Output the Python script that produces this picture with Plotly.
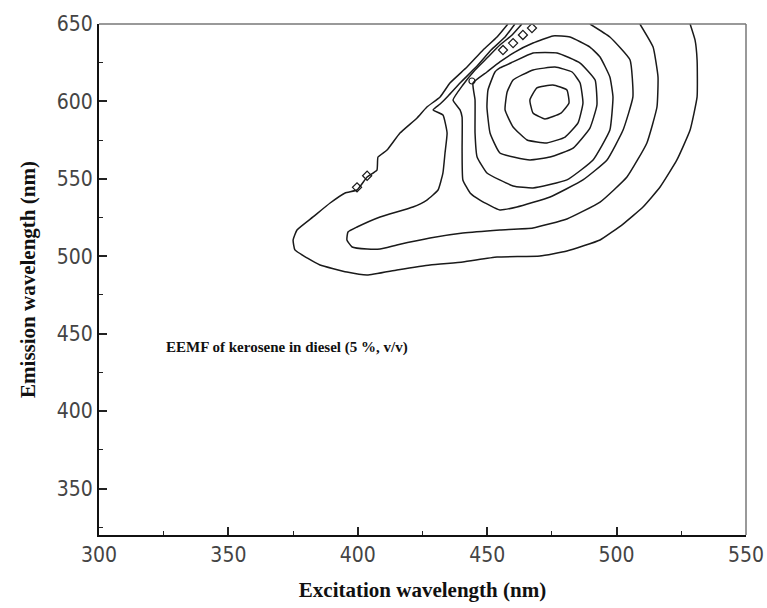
import plotly.graph_objects as go

# Excitation-emission contour lines (excitation nm, emission nm), outermost level first.
lvl1_ex = [458.0, 453.8, 448.4, 442.2, 435.6, 431.8, 426.7, 422.9, 416.3, 411.3, 407.8, 407.4,
           403.6, 399.7, 395.1, 389.3, 382.7, 376.5, 375.0, 375.7, 380.4, 385.4, 395.8, 403.6,
           415.1, 427.9, 440.6, 453.8, 470.4, 480.8, 493.6, 502.5, 510.2, 516.8, 523.3, 528.4,
           531.1, 531.1, 530.3, 528.4]
lvl1_em = [650.0, 641.6, 633.2, 622.2, 611.9, 602.9, 596.4, 589.3, 579.6, 568.6, 564.1, 555.7,
           551.2, 542.8, 540.9, 534.4, 525.4, 517.0, 510.5, 504.1, 498.9, 494.4, 489.8, 487.9,
           491.1, 494.4, 496.3, 499.5, 500.2, 503.4, 510.5, 520.8, 531.8, 544.7, 562.2, 581.5,
           602.9, 626.8, 639.7, 650.0]

lvl2_ex = [460.7, 456.9, 451.5, 445.7, 439.5, 434.9, 431.8, 429.1, 432.9, 434.5, 433.7, 432.9,
           431.0, 426.7, 421.3, 408.6, 399.7, 396.2, 395.8, 397.8, 403.6, 408.6, 415.1, 427.9,
           440.6, 454.9, 467.7, 480.8, 493.6, 504.0, 511.7, 515.6, 516.0, 514.1, 509.0]
lvl2_em = [650.0, 641.6, 633.2, 622.2, 611.9, 603.5, 598.3, 594.5, 591.2, 579.6, 566.7, 553.8,
           542.8, 536.3, 531.8, 525.4, 518.9, 515.7, 510.5, 506.0, 504.7, 504.7, 507.3, 511.8,
           515.0, 517.0, 518.3, 524.1, 535.0, 551.2, 573.2, 596.4, 615.8, 635.1, 650.0]

lvl3_ex = [463.4, 459.6, 454.9, 449.9, 445.3, 440.6, 436.8, 439.5, 440.3, 440.3, 440.6, 443.4,
           447.2, 454.9, 461.5, 474.3, 487.0, 496.3, 502.5, 506.3, 505.2, 497.4, 489.7]
lvl3_em = [650.0, 642.9, 636.4, 628.0, 620.3, 610.6, 600.9, 594.5, 589.9, 568.6, 549.3, 540.9,
           536.3, 529.9, 531.8, 538.3, 549.3, 562.2, 581.5, 602.9, 626.8, 641.6, 650.0]

lvl4_ex = [444.5, 445.3, 445.3, 446.1, 449.9, 460.0, 467.7, 480.8, 490.9, 497.4, 498.6, 497.4,
           493.6, 489.7, 482.0, 475.4, 467.7, 460.7, 454.9, 449.9, 444.5]
lvl4_em = [611.9, 600.9, 579.6, 564.1, 553.8, 545.4, 544.1, 549.3, 562.2, 581.5, 602.9, 615.8,
           628.7, 635.1, 641.6, 642.3, 637.7, 631.9, 625.5, 619.0, 611.9]

lvl5_ex = [453.0, 450.3, 449.9, 451.1, 454.9, 466.5, 474.3, 483.2, 489.7, 492.4, 491.7, 485.9,
           477.0, 467.7, 460.0, 454.9, 453.0]
lvl5_em = [619.0, 607.4, 596.4, 579.6, 566.7, 562.2, 564.1, 569.9, 582.8, 597.7, 613.8, 624.8,
           631.3, 631.3, 625.5, 621.6, 619.0]

lvl6_ex = [457.7, 460.0, 467.7, 476.2, 482.8, 485.9, 487.0, 485.1, 480.1, 473.1, 465.4, 460.0,
           456.9, 457.7]
lvl6_em = [606.1, 613.8, 620.3, 622.2, 619.0, 611.9, 599.0, 586.1, 577.0, 573.2, 575.1, 583.5,
           594.5, 606.1]

lvl7_ex = [466.5, 469.2, 475.4, 480.8, 481.6, 478.5, 472.3, 467.7, 466.5]
lvl7_em = [600.9, 608.7, 610.6, 607.4, 599.0, 592.5, 588.7, 592.5, 600.9]

# Tiny closed islands of the contour map along the steep upper-left edge.
islet_ex = [399.7, 403.6, 456.1, 460.0, 463.8, 467.3]
islet_em = [544.5, 552.0, 633.2, 637.7, 642.9, 647.4]
loop_ex = [444.1]
loop_em = [613.2]

x_ticks = [300, 350, 400, 450, 500, 550]
y_ticks = [350, 400, 450, 500, 550, 600, 650]

levels = [
    (lvl1_ex, lvl1_em), (lvl2_ex, lvl2_em), (lvl3_ex, lvl3_em), (lvl4_ex, lvl4_em),
    (lvl5_ex, lvl5_em), (lvl6_ex, lvl6_em), (lvl7_ex, lvl7_em),
]

line_color = "#1a1a1a"
fig = go.Figure()
for ex, em in levels:
    fig.add_trace(go.Scatter(x=ex, y=em, mode="lines",
                             line=dict(color=line_color, width=1.5, shape="spline", smoothing=0.4),
                             hoverinfo="skip", showlegend=False))

fig.add_trace(go.Scatter(x=islet_ex, y=islet_em, mode="markers",
                         marker=dict(symbol="diamond-open", size=7, color=line_color,
                                     line=dict(width=1.2, color=line_color)),
                         hoverinfo="skip", showlegend=False))
fig.add_trace(go.Scatter(x=loop_ex, y=loop_em, mode="markers",
                         marker=dict(symbol="circle-open", size=6, color=line_color,
                                     line=dict(width=1.2, color=line_color)),
                         hoverinfo="skip", showlegend=False))

tick_font = dict(family="Liberation Sans Narrow, DejaVu Sans Condensed, sans-serif",
                 size=21, color="#444444")
title_font = dict(family="Liberation Serif, Times New Roman, serif", size=21, color="#111111")

fig.update_layout(
    width=767, height=608,
    margin=dict(l=99, r=21, t=24, b=73),
    paper_bgcolor="white", plot_bgcolor="white",
    showlegend=False,
    xaxis=dict(
        range=[300, 550], tickmode="array", tickvals=x_ticks,
        ticks="inside", ticklen=8, tickwidth=1.5, tickcolor="#222",
        minor=dict(ticks="inside", ticklen=4, tickwidth=1.2, tickcolor="#222",
                   tickmode="linear", tick0=300, dtick=25),
        showline=True, linecolor="#111", linewidth=2, mirror=False,
        showgrid=False, zeroline=False, tickfont=tick_font,
        title=dict(text="<b>Excitation wavelength (nm)</b>", font=title_font, standoff=16),
        automargin=False,
    ),
    yaxis=dict(
        range=[320, 650], tickmode="array", tickvals=y_ticks,
        ticks="inside", ticklen=8, tickwidth=1.5, tickcolor="#222",
        minor=dict(ticks="inside", ticklen=4, tickwidth=1.2, tickcolor="#222",
                   tickmode="linear", tick0=325, dtick=25),
        showline=True, linecolor="#111", linewidth=2, mirror=False,
        showgrid=False, zeroline=False, tickfont=tick_font,
        title=dict(text="<b>Emission wavelength (nm)</b>", font=title_font, standoff=15),
        automargin=False,
    ),
    shapes=[
        dict(type="line", xref="paper", yref="paper", x0=0, x1=1, y0=1, y1=1,
             line=dict(color="#777777", width=1.5)),
        dict(type="line", xref="paper", yref="paper", x0=1, x1=1, y0=0, y1=1,
             line=dict(color="#777777", width=1.5)),
    ],
    annotations=[
        dict(text="<b>EEMF of kerosene in diesel (5 %, v/v)</b>", x=325, y=441,
             xref="x", yref="y", xanchor="left", yanchor="middle", showarrow=False,
             font=dict(family="Liberation Serif, Times New Roman, serif", size=15, color="#111111")),
    ],
)

fig.write_html("out.html")
